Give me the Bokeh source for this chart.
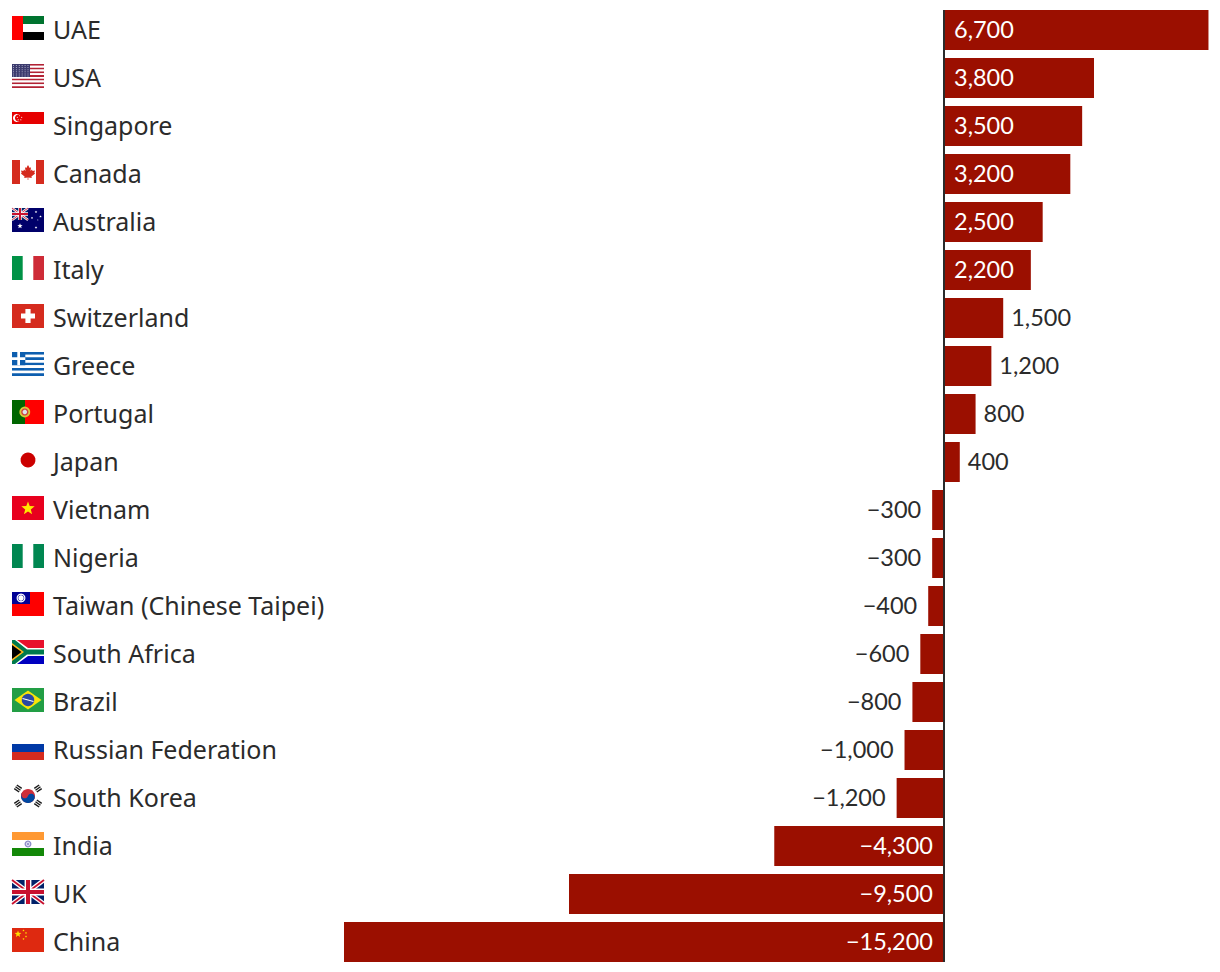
import math
from bokeh.plotting import figure
from bokeh.models import Range1d, ColumnDataSource
from bokeh.core.properties import value
from bokeh.embed import file_html
from bokeh.resources import INLINE

countries = ["UAE", "USA", "Singapore", "Canada", "Australia", "Italy", "Switzerland", "Greece",
             "Portugal", "Japan", "Vietnam", "Nigeria", "Taiwan (Chinese Taipei)", "South Africa",
             "Brazil", "Russian Federation", "South Korea", "India", "UK", "China"]
values = [6700, 3800, 3500, 3200, 2500, 2200, 1500, 1200, 800, 400, -300, -300, -400, -600, -800,
          -1000, -1200, -4300, -9500, -15200]

BAR = "#9b0f00"
INK = "#2b2b2b"
FONT = "Noto Sans"
NFONT = "Lato"
FS = "25px"
NFS = "23.5px"
KX = 600 / 15200   # px per unit
W, H = 1216, 968
ZX, R0, PITCH = 944, 30, 48  # page px of zero, first row centre, pitch
D = 0.5  # half-pixel shift of the frame

p = figure(width=W, height=H, output_backend="svg", toolbar_location=None, min_border=0,
           x_range=Range1d((D - ZX) / KX, (W + D - ZX) / KX),
           y_range=Range1d((H + D - R0) / PITCH, (D - R0) / PITCH))
p.axis.visible = False
p.grid.visible = False
p.outline_line_color = None
p.extra_x_ranges["px"] = Range1d(D, W + D)
p.extra_y_ranges["px"] = Range1d(H + D, D)

rows = list(range(len(countries)))
p.hbar(y=rows, left=0, right=values, height=40 / 48, fill_color=BAR, line_color=None)

# --- flags: polygons in flag-local px (32x24) -------------------------------
px, py, pc = [], [], []
ox, oy = 12, 0

def poly(pts, c):
    px.append([ox + a for a, b in pts])
    py.append([oy + b for a, b in pts])
    pc.append(c)

def rect(x0, y0, x1, y1, c):
    poly([(x0, y0), (x1, y0), (x1, y1), (x0, y1)], c)

def disc(cx, cy, r, c, a0=0, a1=360, n=28):
    poly([(cx + r * math.cos(math.radians(a0 + (a1 - a0) * i / n)),
           cy + r * math.sin(math.radians(a0 + (a1 - a0) * i / n))) for i in range(n + 1)], c)

def star(cx, cy, r, c, rot=-90):
    poly([(cx + (r if i % 2 == 0 else r * 0.42) * math.cos(math.radians(rot + 36 * i)),
           cy + (r if i % 2 == 0 else r * 0.42) * math.sin(math.radians(rot + 36 * i))) for i in range(10)], c)

def band(x0, y0, x1, y1, w, c):
    dx, dy = x1 - x0, y1 - y0
    l = math.hypot(dx, dy)
    nx, ny = -dy / l * w / 2, dx / l * w / 2
    poly([(x0 + nx, y0 + ny), (x1 + nx, y1 + ny), (x1 - nx, y1 - ny), (x0 - nx, y0 - ny)], c)

def union(w, h):
    rect(0, 0, w, h, "#012169")
    sx = w / 32
    band(0, 0, w, h, 4.4 * sx, "#ffffff")
    band(w, 0, 0, h, 4.4 * sx, "#ffffff")
    band(0, 0, w, h, 1.8 * sx, "#c8102e")
    band(w, 0, 0, h, 1.8 * sx, "#c8102e")
    rect(w / 2 - 3.4 * sx, 0, w / 2 + 3.4 * sx, h, "#ffffff")
    rect(0, h / 2 - 3.4 * sx, w, h / 2 + 3.4 * sx, "#ffffff")
    rect(w / 2 - 2 * sx, 0, w / 2 + 2 * sx, h, "#c8102e")
    rect(0, h / 2 - 2 * sx, w, h / 2 + 2 * sx, "#c8102e")

def f_uae():
    rect(11, 0, 32, 8, "#00732f"); rect(11, 16, 32, 24, "#000000"); rect(0, 0, 11, 24, "#ff0000")

def f_usa():
    for i in range(13):
        rect(0, i * 24 / 13, 32, (i + 1) * 24 / 13, "#b22234" if i % 2 == 0 else "#ffffff")
    rect(0, 0, 18, 24 * 7 / 13, "#3c3b6e")
    for r in range(6):
        for c in range(6):
            rect(1 + c * 2.9, 1 + r * 2.1, 2 + c * 2.9, 2 + r * 2.1, "#a5a5c2")

def f_sgp():
    rect(0, 0, 32, 12, "#e60000")
    disc(5, 6, 4, "#ffffff")
    disc(6.6, 6, 3.6, "#e60000")
    for a in range(-90, 270, 72):
        star(7.5 + 2.3 * math.cos(math.radians(a)), 6 + 2.3 * math.sin(math.radians(a)), 0.8, "#ffffff")

def f_can():
    rect(0, 0, 8, 24, "#d52b1e"); rect(24, 0, 32, 24, "#d52b1e")
    poly([(16, 5), (17.7, 8), (19, 7.3), (18.5, 11), (20, 9.6), (20.6, 11), (23, 10.6), (22.3, 13),
          (23.2, 13.6), (19.4, 16.6), (19.8, 18), (16.3, 17.5), (16.3, 20), (15.7, 20), (15.7, 17.5),
          (12.2, 18), (12.6, 16.6), (8.8, 13.6), (9.7, 13), (9, 10.6), (11.4, 11), (12, 9.6),
          (13.5, 11), (13, 7.3), (14.3, 8)], "#d52b1e")

def f_aus():
    rect(0, 0, 32, 24, "#00006a")
    union(16, 12)
    star(8, 18, 2.8, "#ffffff")
    star(24, 19.5, 1.4, "#ffffff"); star(24, 4, 1.4, "#ffffff")
    star(20, 10, 1.3, "#ffffff"); star(28.5, 8.5, 1.3, "#ffffff"); star(25.8, 12, 0.8, "#ffffff")

def f_ita():
    rect(0, 0, 10.7, 24, "#009246"); rect(21.3, 0, 32, 24, "#ce2b37")

def f_che():
    rect(0, 0, 32, 24, "#d52b1e")
    rect(13.4, 5, 18.6, 19, "#ffffff"); rect(9, 9.4, 23, 14.6, "#ffffff")

def f_grc():
    for i in range(9):
        rect(0, i * 24 / 9, 32, (i + 1) * 24 / 9, "#0d5eaf" if i % 2 == 0 else "#ffffff")
    rect(0, 0, 13.3, 13.3, "#0d5eaf")
    rect(5.3, 0, 8, 13.3, "#ffffff"); rect(0, 5.3, 13.3, 8, "#ffffff")

def f_prt():
    rect(0, 0, 13, 24, "#006600"); rect(13, 0, 32, 24, "#ff0000")
    disc(12.8, 12, 5.4, "#d9c93a"); disc(12.8, 12, 3.6, "#d04040"); disc(12.8, 12, 2.2, "#dfe3ec")

def f_jpn():
    disc(16, 12, 7.4, "#cc0000")

def f_vnm():
    rect(0, 0, 32, 24, "#e8001e"); star(16, 12.5, 7, "#ffe600")

def f_nga():
    rect(0, 0, 10.7, 24, "#008751"); rect(21.3, 0, 32, 24, "#008751")

def f_twn():
    rect(0, 0, 32, 24, "#fe0000"); rect(0, 0, 18, 12, "#000095")
    disc(9, 6, 4.4, "#ffffff"); disc(9, 6, 3.2, "#000095"); disc(9, 6, 2.7, "#ffffff")

def f_zaf():
    rect(0, 0, 32, 12, "#e8112d"); rect(0, 12, 32, 24, "#0000c0")
    poly([(0, 0), (5, 0), (16, 8), (32, 8), (32, 16), (16, 16), (5, 24), (0, 24)], "#ffffff")
    poly([(0, 0), (3, 0), (15, 9.5), (32, 9.5), (32, 14.5), (15, 14.5), (3, 24), (0, 24)], "#007a4d")
    poly([(0, 3), (12, 12), (0, 21)], "#ffb81c")
    poly([(0, 5), (9.5, 12), (0, 19)], "#000000")

def f_bra():
    rect(0, 0, 32, 24, "#229e45")
    poly([(16, 2.5), (29.5, 12), (16, 21.5), (2.5, 12)], "#f8e509")
    disc(16, 12, 6.2, "#2b49a3")
    band(10.5, 10.5, 21.5, 13.5, 1, "#ffffff")

def f_rus():
    rect(0, 8, 32, 16, "#0039a6"); rect(0, 16, 32, 24, "#d52b1e")

def f_kor():
    disc(16, 12, 7, "#cd2e3a")
    disc(16, 12, 7, "#0047a0", a0=20, a1=200)
    disc(12.8, 10.8, 3.5, "#cd2e3a")
    disc(19.2, 13.2, 3.5, "#0047a0")
    for cx, cy, a in [(6, 4.5, 35), (26, 4.5, -35), (6, 19.5, -35), (26, 19.5, 35)]:
        ca, sa = math.cos(math.radians(a)), math.sin(math.radians(a))
        for d in (-2.2, 0, 2.2):
            band(cx + d * sa - 3 * ca, cy - d * ca - 3 * sa, cx + d * sa + 3 * ca, cy - d * ca + 3 * sa, 1.4, "#1a1a1a")

def f_ind():
    rect(0, 0, 32, 8, "#ff9933"); rect(0, 16, 32, 24, "#138808")
    disc(16, 12, 3.4, "#8a8ac8"); disc(16, 12, 2.2, "#dcdcf0"); disc(16, 12, 0.8, "#5a5ab0")

def f_gbr():
    union(32, 24)

def f_chn():
    rect(0, 0, 32, 24, "#de2910")
    star(6, 6, 3.6, "#ffde00")
    for x, y in [(11.5, 2.5), (14, 5), (14, 8.5), (11.5, 11)]:
        star(x, y, 1.2, "#ffde00")

flags = [f_uae, f_usa, f_sgp, f_can, f_aus, f_ita, f_che, f_grc, f_prt, f_jpn, f_vnm, f_nga, f_twn,
         f_zaf, f_bra, f_rus, f_kor, f_ind, f_gbr, f_chn]
for i, f in enumerate(flags):
    oy = R0 + PITCH * i - 14
    f()
p.patches(px, py, fill_color=pc, line_color=None, x_range_name="px", y_range_name="px")

# --- axis line ---------------------------------------------------------------
p.segment(x0=[0], x1=[0], y0=[-20 / PITCH], y1=[len(rows) - 1 + 20 / PITCH], line_color=INK, line_width=2)

# --- texts --------------------------------------------------------------------
p.text(x=[53] * len(rows), y=[R0 + PITCH * i for i in rows], text=countries, x_range_name="px", y_range_name="px",
       text_font=value(FONT), text_font_size=value(FS), text_color=INK, text_align="left", text_baseline="middle",
       y_offset=-1)

def fmt(v):
    return ("\u2212" if v < 0 else "") + f"{abs(v):,}"

src = {"x": [], "y": [], "t": [], "c": [], "a": [], "o": []}
for i, v in enumerate(values):
    inside = abs(v) >= 2000
    pos = v >= 0
    src["x"].append(0 if inside else v)
    src["y"].append(i)
    src["t"].append(fmt(v))
    src["c"].append("#ffffff" if inside else INK)
    src["a"].append("left" if pos else "right")
    if inside:
        src["o"].append(10 if pos else -11)
    else:
        src["o"].append(8 if pos else -11)
p.text(x="x", y="y", text="t", text_color="c", text_align="a", x_offset="o", source=ColumnDataSource(src),
       text_font=value(NFONT), text_font_size=value(NFS), text_baseline="middle", y_offset=-1)

open("out.html", "w").write(file_html(p, INLINE))
